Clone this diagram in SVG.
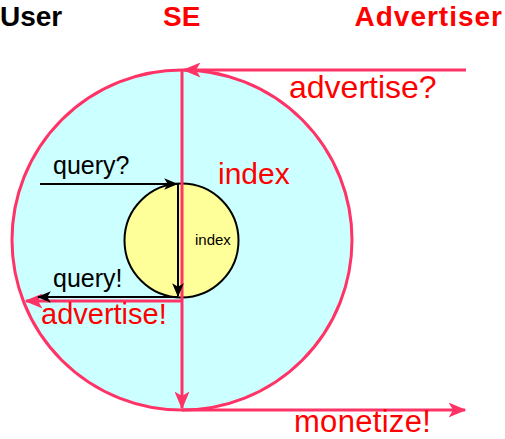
<svg xmlns="http://www.w3.org/2000/svg" width="505" height="439" viewBox="0 0 505 439">
<style>
text{font-family:"Liberation Sans",Arial,sans-serif}
.h{font-weight:bold;font-size:28px}
.red{fill:#ff0000}
.pk{stroke:#ff3366;stroke-width:3;fill:none}
.bk{stroke:#000;stroke-width:2;fill:none}
</style>
<defs>
<marker id="ap" viewBox="0 0 12 10" refX="11" refY="5" markerWidth="6" markerHeight="5" orient="auto" markerUnits="strokeWidth"><path d="M0,0 L12,5 L0,10 L3,5 Z" fill="#ff3366"/></marker>
<marker id="ab" viewBox="0 0 12 10" refX="11" refY="5" markerWidth="7" markerHeight="6" orient="auto" markerUnits="strokeWidth"><path d="M0,0 L12,5 L0,10 L3,5 Z" fill="#000"/></marker>
</defs>
<g id="se-big"><circle cx="182" cy="240" r="170" fill="#ccffff" stroke="#ff3366" stroke-width="3"/></g>
<g id="index-small"><circle cx="181.5" cy="240.5" r="57" fill="#ffff99" stroke="#000" stroke-width="2"/><text x="195" y="245" font-size="15">index</text></g>
<g id="connectors">
<line class="pk" x1="466" y1="70" x2="184" y2="70" marker-end="url(#ap)"/>
<line class="pk" x1="182" y1="70" x2="182" y2="408" marker-end="url(#ap)"/>
<line class="pk" x1="182" y1="410" x2="465" y2="410" marker-end="url(#ap)"/>
<line class="pk" x1="182" y1="301" x2="26" y2="301" marker-end="url(#ap)"/>
<line class="bk" x1="40" y1="184" x2="177" y2="184" marker-end="url(#ab)"/>
<line class="bk" x1="178" y1="184" x2="178" y2="296" marker-end="url(#ab)"/>
<line class="bk" x1="178" y1="297" x2="38" y2="297" marker-end="url(#ab)"/>
</g>
<g id="labels">
<text class="h" x="0" y="26">User</text>
<text class="h red" x="163" y="26">SE</text>
<text class="h red" x="503" y="26" text-anchor="end" letter-spacing="1">Advertiser</text>
<text class="red" x="289" y="98" font-size="32">advertise?</text>
<text class="red" x="218" y="184" font-size="30">index</text>
<text x="53" y="174" font-size="25">query?</text>
<text x="53" y="287" font-size="25">query!</text>
<text class="red" x="41" y="324" font-size="29">advertise!</text>
<text class="red" x="294" y="432" font-size="31" letter-spacing="0.3">monetize!</text>
</g>
</svg>
